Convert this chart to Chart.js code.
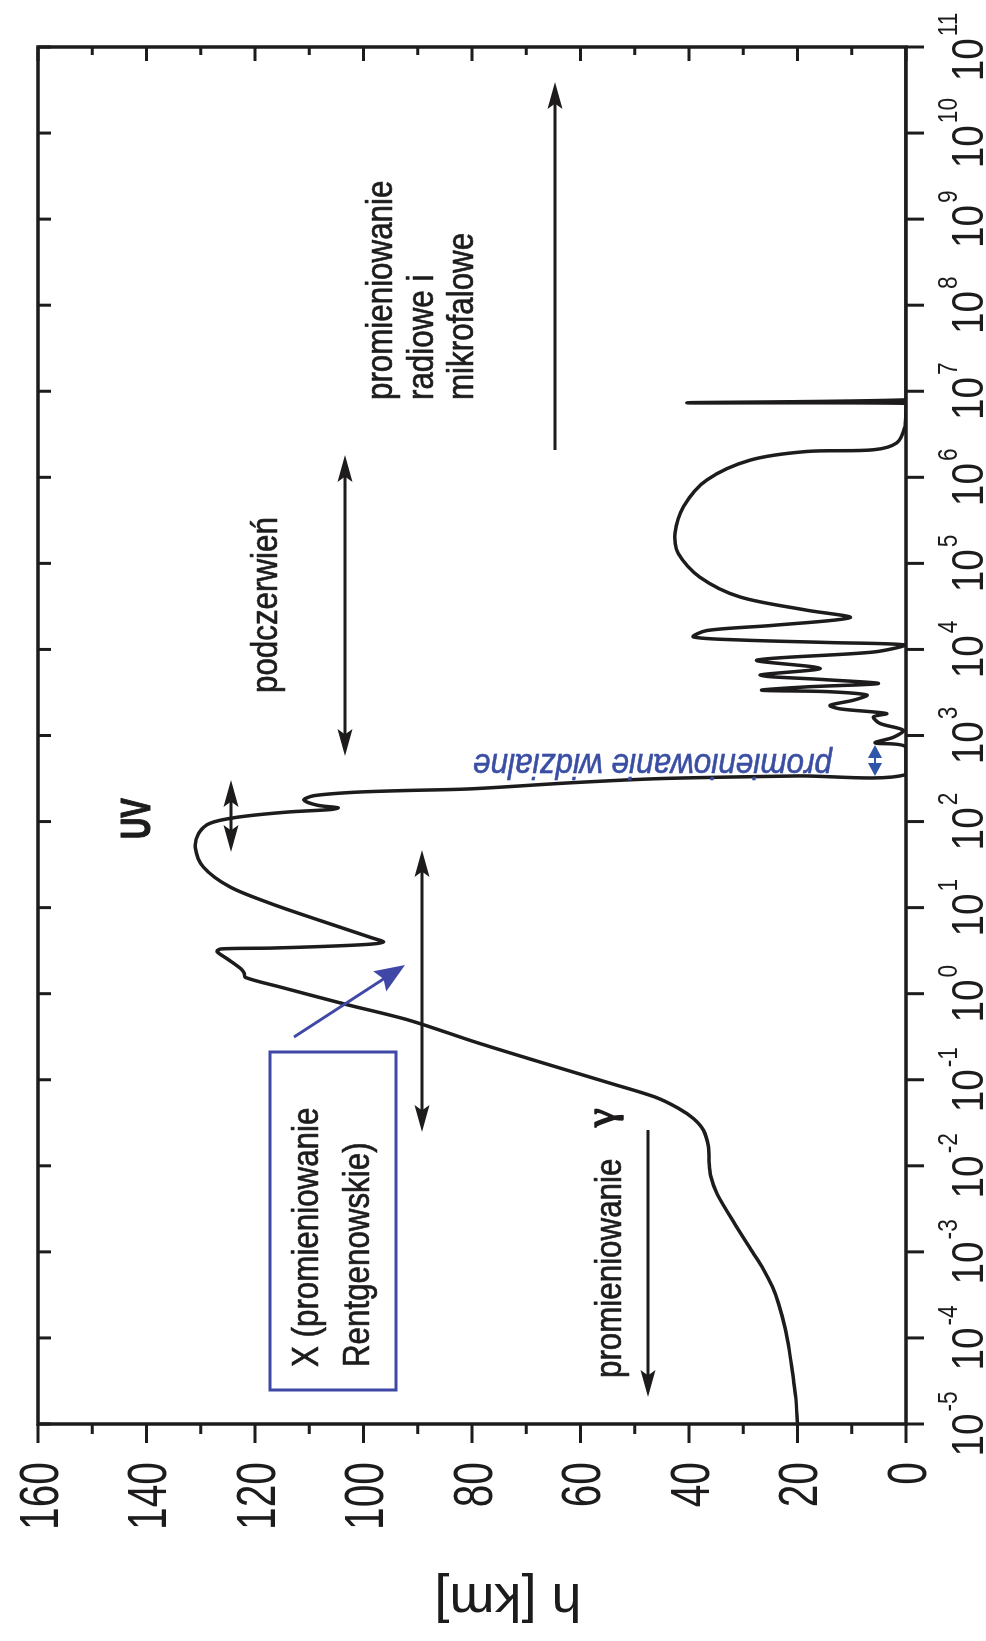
<!DOCTYPE html>
<html><head><meta charset="utf-8">
<script src="https://cdn.jsdelivr.net/npm/chart.js@4.4.1/dist/chart.umd.min.js"></script>
<style>
html,body{margin:0;padding:0;background:#fff;width:986px;height:1641px;overflow:hidden}
#wrap{position:absolute;left:0;top:0;width:1641px;height:986px;transform-origin:0 0;transform:translate(0px,1641px) rotate(-90deg);background:#fff}
canvas{display:block}
</style></head><body>
<div id="wrap"><canvas id="c" width="1641" height="986" style="width:1641px;height:986px"></canvas></div>
<script>
// wavelength as log10(lambda), and altitude h [km] where half the radiation is absorbed
const logLambda = [
 -5.00,-4.70,-4.46,-4.15,-3.88,-3.60,-3.41,-3.20,-3.02,-2.67,-2.33,-2.12,-1.95,-1.78,-1.59,-1.45,-1.33,-1.20,-1.05,-0.78,
 -0.56,-0.31,-0.12,0.08,0.19,0.24,0.29,0.40,0.49,0.52,0.53,0.55,0.575,0.60,0.65,0.85,1.05,1.24,1.47,1.70,
 1.86,1.98,2.05,2.11,2.14,2.16,2.19,2.25,2.30,2.34,2.36,2.38,2.45,2.50,2.53,2.545,2.867,2.914,2.98,3.06,
 3.14,3.216,3.255,3.31,3.35,3.41,3.47,3.51,3.526,3.565,3.604,3.65,3.70,3.78,3.875,3.97,4.05,4.08,4.11,4.146,
 4.22,4.28,4.37,4.456,4.61,4.84,5.115,5.35,5.66,5.97,6.20,6.30,6.32,6.40,6.59,6.82,6.86,6.866,6.90,6.95,11.0
];
const heightKm = [
 20.0,20.3,20.8,21.5,22.3,23.5,24.6,26.3,28.1,31.6,34.8,36.0,36.3,36.4,37.3,39.2,42.0,46.3,54.0,68.2,
 79.5,91.5,103.5,115.5,121.8,122.0,122.6,125.0,127.0,126.3,117.0,107.0,98.8,96.3,98.5,108.0,117.2,124.6,129.5,131.0,
 130.4,128.3,123.3,114.1,106.0,104.7,108.5,111.0,109.2,101.8,92.6,80.3,62.0,45.0,20.0,0.0,0.0,5.7,2.3,0.5,
 4.8,6.0,3.6,12.2,14.0,9.7,7.2,14.6,26.6,18.3,5.1,15.2,26.9,15.8,27.5,6.0,0.0,14.0,30.6,39.2,
 36.7,24.5,10.3,18.3,30.6,38.0,42.0,42.6,41.0,36.7,28.7,18.3,6.0,1.7,0.2,0.0,0.0,40.4,0.0,0.0,0.0
];
const decadeExponents = [-5,-4,-3,-2,-1,0,1,2,3,4,5,6,7,8,9,10,11];
const hTickLabels = [0,20,40,60,80,100,120,140,160];
const hMinorTicks = [10,30,50,70,90,110,130,150];
const axisTitle = 'h [km]';

const INK = '#1d1b1c';
const BLUE = '#3f48a6';
const TEXT_BLUE = '#3a4ea3';
const SANS = '"Liberation Sans", Arial, Helvetica, sans-serif';

function fontStr(o){ return `${o.style||'normal'} ${o.weight||'normal'} ${o.size}px ${o.family||SANS}`; }
function drawText(ctx, text, x, y, o){
  ctx.save();
  ctx.translate(x, y);
  if (o.rot) ctx.rotate(o.rot);
  ctx.scale(o.sx || 1, 1);
  ctx.font = fontStr(o);
  ctx.fillStyle = o.color || INK;
  ctx.textAlign = o.align || 'left';
  ctx.textBaseline = 'alphabetic';
  ctx.fillText(text, 0, 0);
  if (o.stroke) {
    ctx.strokeStyle = o.color || INK; ctx.lineWidth = o.stroke; ctx.lineJoin = 'round';
    ctx.strokeText(text, 0, 0);
  }
  ctx.restore();
}
function textWidth(ctx, text, o){
  ctx.save(); ctx.font = fontStr(o); const w = ctx.measureText(text).width * (o.sx || 1); ctx.restore(); return w;
}
function seg(ctx, x1, y1, x2, y2){ ctx.beginPath(); ctx.moveTo(x1, y1); ctx.lineTo(x2, y2); ctx.stroke(); }
function arrowHead(ctx, tx, ty, ux, uy, L, W, notch){
  const px = -uy, py = ux;
  const bx = tx - ux*L, by = ty - uy*L;
  const nx = tx - ux*L*notch, ny = ty - uy*L*notch;
  ctx.beginPath(); ctx.moveTo(tx, ty);
  ctx.lineTo(bx + px*W, by + py*W); ctx.lineTo(nx, ny); ctx.lineTo(bx - px*W, by - py*W);
  ctx.closePath(); ctx.fill();
}
function arrow(ctx, x1, y1, x2, y2, o){
  const dx = x2-x1, dy = y2-y1, len = Math.hypot(dx, dy), ux = dx/len, uy = dy/len;
  const notch = o.notch == null ? 0.8 : o.notch;
  const inset = o.L * notch * 0.9;
  ctx.save();
  ctx.strokeStyle = o.color; ctx.fillStyle = o.color; ctx.lineWidth = o.width; ctx.lineCap = 'butt';
  const sx = o.both ? x1 + ux*inset : x1, sy = o.both ? y1 + uy*inset : y1;
  seg(ctx, sx, sy, x2 - ux*inset, y2 - uy*inset);
  arrowHead(ctx, x2, y2, ux, uy, o.L, o.W, notch);
  if (o.both) arrowHead(ctx, x1, y1, -ux, -uy, o.L, o.W, notch);
  ctx.restore();
}

const framePlugin = {
  id: 'frameAndNotes',
  afterDraw(chart){
    const {ctx, chartArea: a, scales: {x, y}} = chart;
    ctx.save();
    ctx.strokeStyle = INK; ctx.lineCap = 'butt';
    // frame
    ctx.lineWidth = 3.5;
    ctx.strokeRect(a.left, a.top, a.right - a.left, a.bottom - a.top);
    // wavelength ticks (outer + mirrored inner)
    ctx.lineWidth = 3;
    decadeExponents.forEach(e => {
      const px = x.getPixelForValue(e);
      seg(ctx, px, a.bottom, px, a.bottom + 18);
      seg(ctx, px, a.top, px, a.top + 13);
    });
    // altitude ticks
    hTickLabels.forEach(v => {
      const py = y.getPixelForValue(v);
      seg(ctx, a.left - 19, py, a.left, py);
      seg(ctx, a.right, py, a.right - 14, py);
    });
    hMinorTicks.forEach(v => {
      const py = y.getPixelForValue(v);
      seg(ctx, a.left - 10, py, a.left, py);
      seg(ctx, a.right, py, a.right - 8, py);
    });
    // altitude labels
    const hl = {size: 55, sx: 0.74, align: 'right'};
    hTickLabels.forEach(v => {
      drawText(ctx, String(v), a.left - 38, y.getPixelForValue(v) + 0.716*55/2, hl);
    });
    // wavelength labels 10^n
    const bo = {size: 44, sx: 0.88};
    const eo = {size: 27, sx: 0.84};
    decadeExponents.forEach(e => {
      const px = x.getPixelForValue(e);
      const ex = String(e);
      const wb = textWidth(ctx, '10', bo), we = textWidth(ctx, ex, eo), gap = 2;
      const x0 = px - (wb + gap + we)/2;
      drawText(ctx, '10', x0, 983, bo);
      drawText(ctx, ex, x0 + wb + gap, 957, eo);
    });
    // axis title
    drawText(ctx, axisTitle, 57, 508, {size: 54, align: 'center', rot: -Math.PI/2});

    // annotations (condensed, slightly heavy lettering)
    const t = {size: 36, sx: 0.87, stroke: 0.7};
    drawText(ctx, 'promieniowanie', 1241, 392, t);
    drawText(ctx, 'radiowe i', 1241, 433, t);
    drawText(ctx, 'mikrofalowe', 1241, 473, t);
    arrow(ctx, 1191, 555, 1559, 555, {color: INK, width: 3, L: 27, W: 7.5});

    drawText(ctx, 'podczerwień', 948, 277, t);
    arrow(ctx, 885, 345, 1186, 345, {color: INK, width: 3, L: 27, W: 7.5, both: true});

    drawText(ctx, 'UV', 802, 150, {size: 42, weight: 'bold', sx: 0.7, stroke: 1.2});
    arrow(ctx, 789, 231, 861, 231, {color: INK, width: 3, L: 27, W: 7.5, both: true});

    arrow(ctx, 509, 422, 791, 422, {color: INK, width: 3, L: 27, W: 7.5, both: true});

    // X-ray box
    ctx.strokeStyle = BLUE; ctx.lineWidth = 3;
    ctx.strokeRect(251, 270, 338, 126);
    drawText(ctx, 'X (promieniowanie', 274, 318, t);
    drawText(ctx, 'Rentgenowskie)', 274, 369, t);
    arrow(ctx, 604, 294, 676, 405, {color: BLUE, width: 3, L: 30, W: 12, notch: 0.85});

    // gamma
    drawText(ctx, 'promieniowanie', 263, 621, t);
    drawText(ctx, 'γ', 514, 614, {size: 42, family: '"Liberation Serif", "DejaVu Serif", serif', stroke: 1.6});
    arrow(ctx, 511, 648, 244, 648, {color: INK, width: 3, L: 27, W: 7.5});

    // visible
    drawText(ctx, 'promieniowanie widzialne', 887, 832, {size: 35, sx: 0.9, style: 'italic', color: TEXT_BLUE, stroke: 0.6, rot: -Math.PI/2});
    arrow(ctx, 865, 875, 896, 875, {color: '#2f55a8', width: 2, L: 13, W: 7, both: true, notch: 1});
    ctx.restore();
  }
};

const points = logLambda.map((v, i) => ({x: v, y: heightKm[i]}));

new Chart(document.getElementById('c').getContext('2d'), {
  type: 'scatter',
  data: {datasets: [{
    data: points, showLine: true, borderColor: INK, borderWidth: 3.5,
    pointRadius: 0, tension: 0.3, fill: false
  }]},
  options: {
    responsive: false, animation: false, devicePixelRatio: 1,
    layout: {padding: {top: 38, right: 47, left: 0, bottom: 0}},
    plugins: {legend: {display: false}, tooltip: {enabled: false}, title: {display: false}},
    scales: {
      x: {type: 'linear', min: -5, max: 11, position: 'bottom',
          grid: {display: false}, border: {display: false},
          ticks: {display: false, stepSize: 1},
          afterFit: s => { s.height = 80; }},
      y: {type: 'linear', min: 0, max: 160, position: 'left',
          grid: {display: false}, border: {display: false},
          ticks: {display: false, stepSize: 20},
          afterFit: s => { s.width = 217; }}
    }
  },
  plugins: [framePlugin]
});
</script>
</body></html>
